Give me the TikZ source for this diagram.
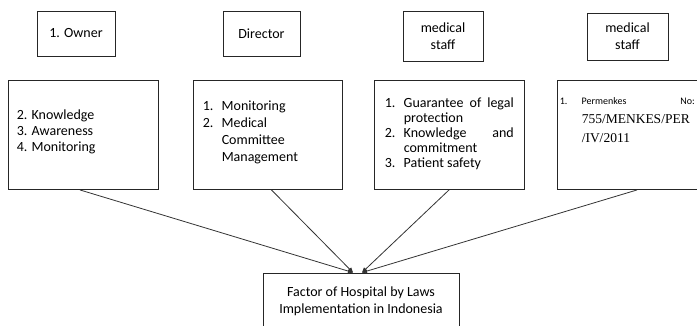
\documentclass[tikz,border=0pt]{standalone}
\usepackage{fontspec}
\setmainfont{Carlito}
\newfontfamily\lawfont{Liberation Serif}
\usetikzlibrary{arrows.meta,positioning}

% list helpers
\newcommand{\itm}[2]{\makebox[19pt][l]{#1}#2}
\newcommand{\jst}[1]{\makebox[110pt][s]{#1}}

\tikzset{
  topbox/.style={draw=black!85, line width=0.9pt, minimum width=78pt,
    minimum height=45pt, align=center, font=\fontsize{14}{17}\selectfont},
  factbox/.style={draw=black!85, line width=0.9pt, minimum width=150pt,
    minimum height=109pt},
  factlist/.style={anchor=north west, inner sep=0pt, align=left,
    font=\fontsize{14}{16}\selectfont},
  link/.style={draw=black!80, line width=0.8pt,
    -{Triangle[length=5pt,width=4.5pt]}}
}

\begin{document}
\begin{tikzpicture}[x=1pt,y=-1pt]
    \useasboundingbox (0,0) rectangle (697,325);

    % Actors
    \node[topbox] (owner) at (76,33.5) {1. Owner};
    \node[topbox, minimum width=77pt] (director) at (261.5,33.5) {Director};
    \node[topbox, minimum width=80pt, minimum height=50pt] (staffA) at (443,36) {medical\\staff};
    \node[topbox, minimum width=81pt, minimum height=47pt] (staffB) at (627.5,36.5) {medical\\staff};

    % Factor boxes
    \node[factbox] (factA) at (83,135) {};
    \node[factbox, minimum width=149pt] (factB) at (267.5,135) {};
    \node[factbox] (factC) at (449,135) {};
    \node[factbox] (factD) at (632,135) {};

    % Their lists
    \node[factlist] (listA) at ([shift={(9,29.5)}]factA.north west)
        {2. Knowledge\\3. Awareness\\4. Monitoring};
    \node[factlist, font=\fontsize{14}{17}\selectfont] (listB) at ([shift={(10,20.5)}]factB.north west)
        {\itm{1.}{Monitoring}\\\itm{2.}{Medical}\\\itm{}{Committee}\\\itm{}{Management}};
    \node[factlist, font=\fontsize{14}{15}\selectfont] (listC) at ([shift={(11,17.5)}]factC.north west)
        {\itm{1.}{\jst{Guarantee of legal}}\\\itm{}{protection}\\
         \itm{2.}{\jst{Knowledge and}}\\\itm{}{commitment}\\\itm{3.}{Patient safety}};
    \node[factlist, font=\lawfont\fontsize{13.5}{19}\selectfont] (listD) at ([shift={(3,17.5)}]factD.north west)
        {{\normalfont\fontsize{10}{12}\selectfont\makebox[22pt][l]{1.}\makebox[113pt][s]{Permenkes No:}}\\
         \hspace*{22pt}755/MENKES/PER\\\hspace*{22pt}/IV/2011};

    % Result
    \node[draw=black!85, line width=0.9pt, minimum width=196pt, minimum height=57pt,
        align=center, font=\fontsize{14}{17}\selectfont] (factor) at (361,301.5)
        {Factor of Hospital by Laws\\Implementation in Indonesia};

    \coordinate (tipL) at ([xshift=-8pt]factor.north);
    \coordinate (tipR) at ([xshift=1pt]factor.north);

    \draw[link] ([xshift=-3pt]factA.south) -- (tipL);
    \draw[link] ([xshift=4pt]factB.south) -- (tipL);
    \draw[link] (factC.south) -- (tipR);
    \draw[link] ([xshift=5pt]factD.south) -- (tipR);
\end{tikzpicture}
\end{document}
